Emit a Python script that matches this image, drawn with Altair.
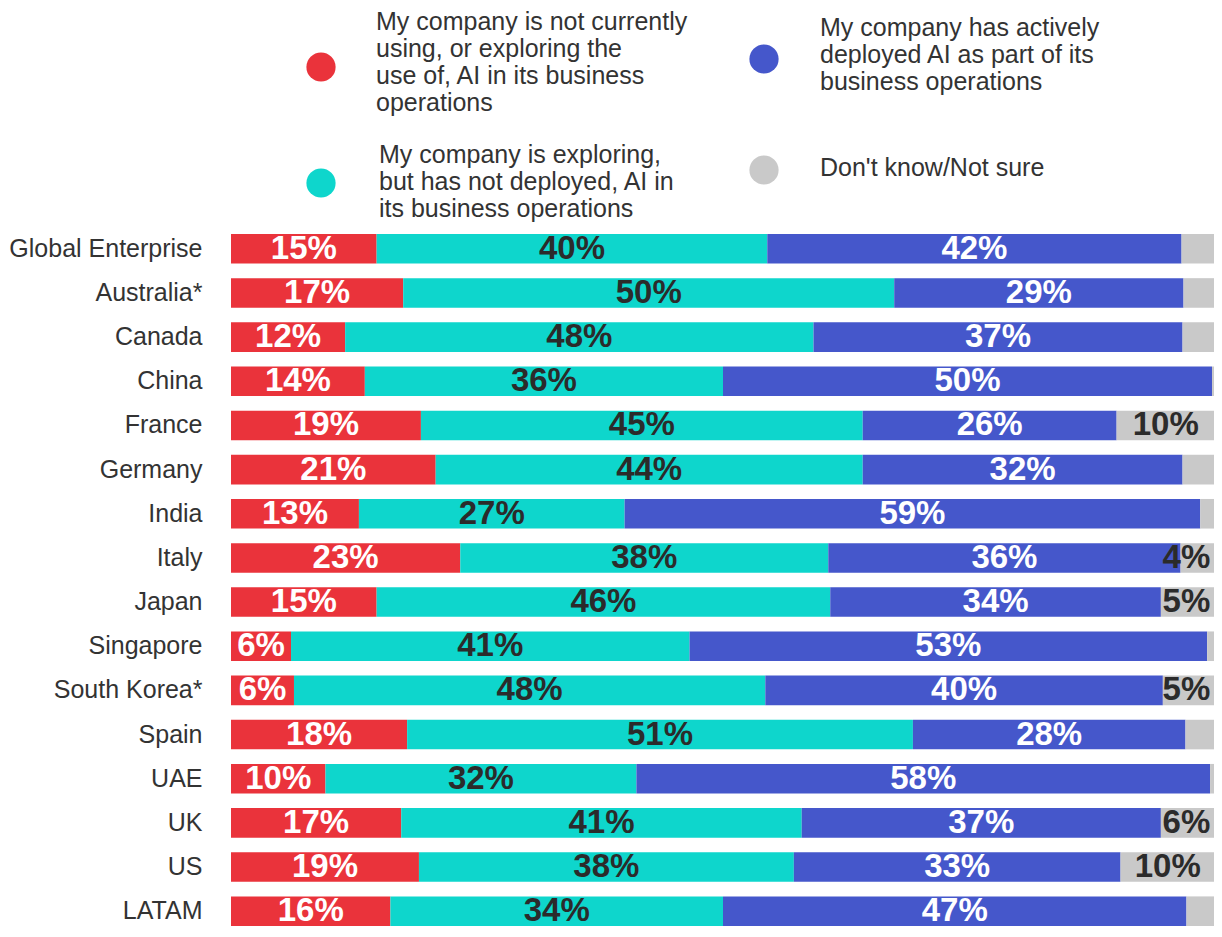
import altair as alt
import pandas as pd

countries = ["Global Enterprise", "Australia*", "Canada", "China", "France", "Germany",
             "India", "Italy", "Japan", "Singapore", "South Korea*", "Spain", "UAE",
             "UK", "US", "LATAM"]

series_names = [
    "My company is not currently\nusing, or exploring the\nuse of, AI in its business\noperations",
    "My company is exploring,\nbut has not deployed, AI in\nits business operations",
    "My company has actively\ndeployed AI as part of its\nbusiness operations",
    "Don't know/Not sure",
]

not_using = [14.8, 17.5, 11.6, 13.6, 19.3, 20.8, 13.0, 23.3, 14.8, 6.1, 6.4, 17.9, 9.6, 17.3, 19.1, 16.2]
exploring = [39.7, 49.9, 47.6, 36.4, 44.9, 43.4, 27.0, 37.4, 46.1, 40.5, 47.9, 51.4, 31.6, 40.7, 38.1, 33.8]
deployed = [42.1, 29.4, 37.5, 49.7, 25.8, 32.5, 58.5, 35.8, 33.6, 52.6, 40.4, 27.7, 58.3, 36.5, 33.2, 47.1]
dont_know = [3.4, 3.2, 3.3, 0.3, 10.0, 3.3, 1.5, 3.5, 5.5, 0.8, 5.3, 3.0, 0.5, 5.5, 9.6, 2.9]

not_using_lbl = ["15%", "17%", "12%", "14%", "19%", "21%", "13%", "23%", "15%", "6%", "6%", "18%", "10%", "17%", "19%", "16%"]
exploring_lbl = ["40%", "50%", "48%", "36%", "45%", "44%", "27%", "38%", "46%", "41%", "48%", "51%", "32%", "41%", "38%", "34%"]
deployed_lbl = ["42%", "29%", "37%", "50%", "26%", "32%", "59%", "36%", "34%", "53%", "40%", "28%", "58%", "37%", "33%", "47%"]
dont_know_lbl = ["", "", "", "", "10%", "", "", "4%", "5%", "", "5%", "", "", "6%", "10%", ""]

colors = ["#EA333B", "#0ED6CC", "#4557CB", "#C9C9C9"]

values = [not_using, exploring, deployed, dont_know]
labels = [not_using_lbl, exploring_lbl, deployed_lbl, dont_know_lbl]

rows = []
for si, name in enumerate(series_names):
    for ci, c in enumerate(countries):
        rows.append({"country": c, "series": name, "order": si,
                     "value": values[si][ci], "label": labels[si][ci]})
df = pd.DataFrame(rows)

FONT = "Liberation Sans"
color_scale = alt.Scale(domain=series_names, range=colors)

# legend layout (pixels relative to the plot's top-left corner):
# circle x, circle y, text x, first text line y
LEGEND_LAYOUT = [
    (90, -167, 145, -212),
    (90, -51, 148, -79),
    (533, -175, 589, -206),
    (533, -64, 589, -66),
]

base = alt.Chart(df).transform_stack(
    stack="value", groupby=["country"], as_=["x0", "x1"],
    sort=[alt.SortField("order", "ascending")]
)

y_enc = alt.Y("country:N", sort=countries,
              scale=alt.Scale(paddingInner=0.33, paddingOuter=0),
              axis=alt.Axis(title=None, labelFontSize=25, labelFont=FONT,
                            labelColor="#333333", labelPadding=29, ticks=False,
                            domain=False, labelLimit=400))

bars = base.mark_bar().encode(
    x=alt.X("x0:Q", scale=alt.Scale(domain=[0, 100], nice=False, zero=True), axis=None),
    x2="x1:Q",
    y=y_enc,
    color=alt.Color("series:N", scale=color_scale, legend=None),
)

text = base.transform_calculate(
    mid="min((datum.x0 + datum.x1) / 2, 97.1)",
    tcolor="(datum.order == 0 || datum.order == 2) ? '#FFFFFF' : '#2B2B2B'",
).mark_text(font=FONT, fontSize=33, fontWeight="bold", baseline="middle",
            align="center").encode(
    x=alt.X("mid:Q", scale=alt.Scale(domain=[0, 100], nice=False)),
    y=alt.Y("country:N", sort=countries),
    text="label:N",
    color=alt.Color("tcolor:N", scale=None),
)

legend_layers = []
for name, (cx, cy, tx, ty) in zip(series_names, LEGEND_LAYOUT):
    ldf = pd.DataFrame({"series": [name]})
    dot = alt.Chart(ldf).mark_circle(size=855, opacity=1).encode(
        x=alt.value(cx), y=alt.value(cy),
        color=alt.Color("series:N", scale=color_scale, legend=None),
    )
    lab = alt.Chart(ldf).mark_text(font=FONT, fontSize=25, color="#333333",
                                   align="left", baseline="middle",
                                   lineBreak="\n", lineHeight=27).encode(
        x=alt.value(tx), y=alt.value(ty), text="series:N",
    )
    legend_layers += [dot, lab]

chart = alt.layer(bars, text, *legend_layers).properties(
    width=984, height=692,
    autosize=alt.AutoSizeParams(type="none"),
    padding={"left": 223, "top": 226, "right": -1, "bottom": 3},
).configure_view(stroke=None)

chart.save("out.html", embed_options={"renderer": "svg", "actions": False})
